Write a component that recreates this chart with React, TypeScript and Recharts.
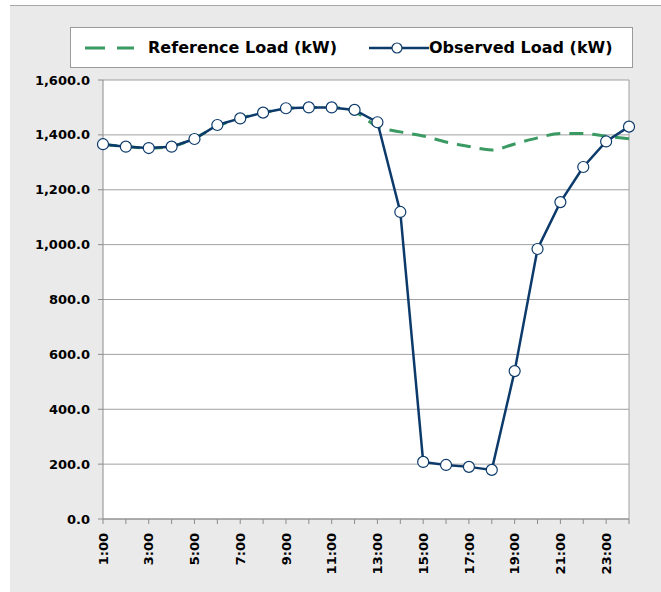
import { CartesianGrid, Legend, Line, LineChart, XAxis, YAxis } from "recharts";

const hours = [
  "1:00", "2:00", "3:00", "4:00", "5:00", "6:00", "7:00", "8:00", "9:00", "10:00", "11:00", "12:00",
  "13:00", "14:00", "15:00", "16:00", "17:00", "18:00", "19:00", "20:00", "21:00", "22:00", "23:00", "24:00",
];
const referenceLoad = [
  1365, 1358, 1352, 1358, 1388, 1432, 1460, 1481, 1496, 1500, 1500, 1484,
  1430, 1411, 1396, 1374, 1358, 1345, 1367, 1389, 1405, 1405, 1395, 1386,
];
const observedLoad = [
  1366, 1357, 1352, 1357, 1385, 1436, 1460, 1481, 1497, 1500, 1500, 1491,
  1446, 1119, 208, 197, 190, 179, 539, 984, 1155, 1283, 1376, 1430,
];
const yTicks = [0, 200, 400, 600, 800, 1000, 1200, 1400, 1600];

const data = hours.map((h, i) => ({ hour: h, reference: referenceLoad[i], observed: observedLoad[i] }));

const NAVY = "#0c3a6b";
const GREEN = "#3a9a62";
const AXIS_FONT = "'DejaVu Sans', sans-serif";

function HourTick(props: any) {
  const { x, y, index, payload } = props;
  if (index % 2 !== 0) return <g />;
  return (
    <text
      x={x}
      y={y}
      transform={`rotate(-90, ${x}, ${y})`}
      textAnchor="end"
      dy="0.36em"
      fontSize={13}
      fontWeight="bold"
      fontFamily={AXIS_FONT}
      fill="#000"
    >
      {payload.value}
    </text>
  );
}

function LegendBox() {
  return (
    <div
      style={{
        boxSizing: "border-box",
        width: 563,
        height: 41,
        border: "1px solid #9a9a9a",
        background: "#fff",
        display: "flex",
        alignItems: "center",
        paddingLeft: 13,
        fontFamily: AXIS_FONT,
        fontWeight: "bold",
        fontSize: 16,
        color: "#000",
        whiteSpace: "nowrap",
      }}
    >
      <svg width={50} height={10}>
        <line x1={1} y1={5} x2={50} y2={5} stroke={GREEN} strokeWidth={3} strokeDasharray="20 12" />
      </svg>
      <span style={{ marginLeft: 14 }}>Reference Load (kW)</span>
      <svg width={60} height={14} style={{ marginLeft: 32 }}>
        <line x1={0} y1={7} x2={60} y2={7} stroke={NAVY} strokeWidth={2.5} />
        <circle cx={28} cy={7} r={5} fill="#fff" stroke={NAVY} strokeWidth={1.2} />
      </svg>
      <span>Observed Load (kW)</span>
    </div>
  );
}

export default function App() {
  return (
    <div style={{ position: "absolute", left: 0, top: 0, width: 661, height: 592, background: "#fff" }}>
      <div
        style={{
          position: "absolute",
          left: 10,
          top: 5,
          width: 651,
          height: 587,
          boxSizing: "border-box",
          background: "#eaeaea",
          borderTop: "1px solid #a8a8a8",
        }}
      />
      <div style={{ position: "absolute", left: 10, top: 5 }}>
        <LineChart width={651} height={587} data={data} margin={{ top: 75, right: 32, left: 0, bottom: 0 }}>
          <CartesianGrid
            fill="#fff"
            stroke="#a0a0a0"
            strokeWidth={1}
            verticalCoordinatesGenerator={({ offset }: any) => [offset.left + offset.width]}
          />
          <XAxis
            dataKey="hour"
            interval={0}
            height={73}
            tick={<HourTick />}
            tickSize={5}
            tickMargin={9}
            stroke="#8c8c8c"
          />
          <YAxis
            width={93}
            domain={[0, 1600]}
            ticks={yTicks}
            interval={0}
            tickSize={5}
            tickMargin={8}
            stroke="#8c8c8c"
            tickFormatter={(v: number) => v.toLocaleString("en-US", { minimumFractionDigits: 1, maximumFractionDigits: 1 })}
            tick={{ fontSize: 13, fontWeight: "bold", fontFamily: AXIS_FONT, fill: "#000" }}
          />
          <Legend
            layout="horizontal"
            verticalAlign="middle"
            align="center"
            wrapperStyle={{ left: 60, top: 22, width: 563, height: 41 }}
            content={() => <LegendBox />}
          />
          <Line
            type="monotone"
            dataKey="reference"
            name="Reference Load (kW)"
            stroke={GREEN}
            strokeWidth={3}
            strokeDasharray="14 9"
            dot={false}
            isAnimationActive={false}
          />
          <Line
            type="linear"
            dataKey="observed"
            name="Observed Load (kW)"
            stroke={NAVY}
            strokeWidth={2.5}
            dot={{ r: 5.5, fill: "#fff", stroke: NAVY, strokeWidth: 1.2 }}
            isAnimationActive={false}
          />
        </LineChart>
      </div>
    </div>
  );
}
